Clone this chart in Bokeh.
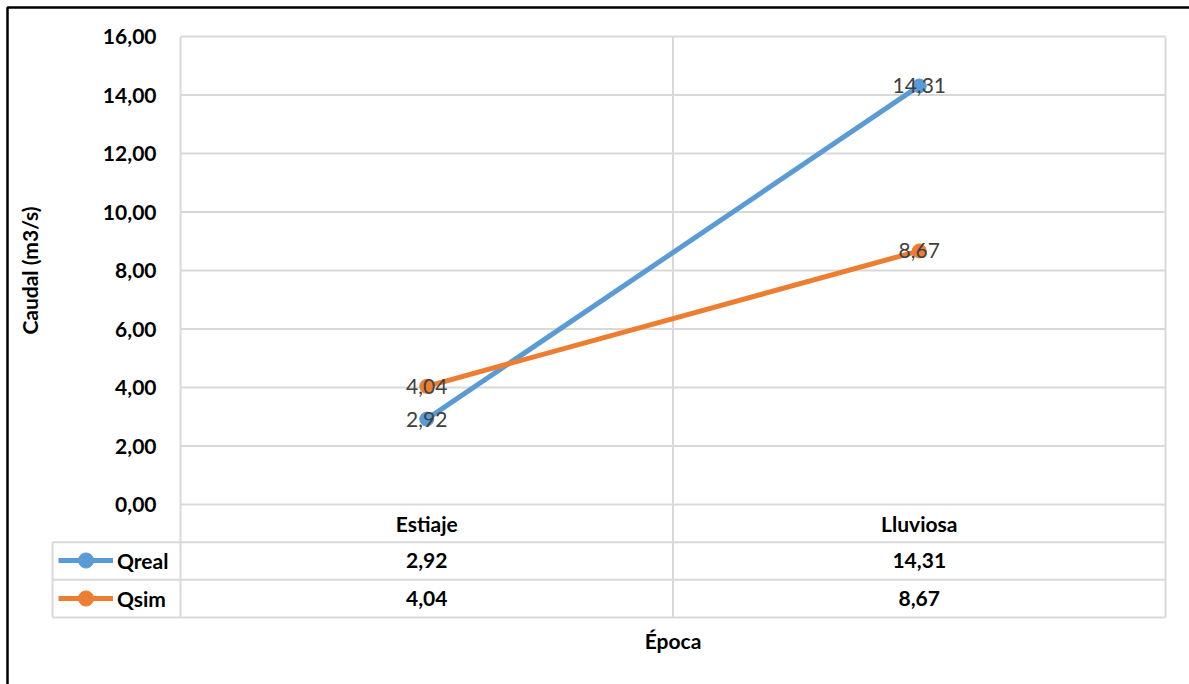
from bokeh.plotting import figure
from bokeh.models import (ColumnDataSource, Range1d, FixedTicker, LinearAxis,
                          BoxAnnotation, Legend, LegendItem)
from bokeh.core.properties import value
from bokeh.embed import file_html
from bokeh.resources import INLINE

# Caudal observado y simulado por época
epocas = ["Estiaje", "Lluviosa"]
qreal = [2.92, 14.31]
qsim = [4.04, 8.67]
series_names = ["Qreal", "Qsim"]
series_colors = ["#5B9BD5", "#ED7D31"]
y_ticks = [0, 2, 4, 6, 8, 10, 12, 14, 16]


def fmt(v):
    return f"{v:.2f}".replace(".", ",")


W, H = 1189, 684
FONT = value("Lato")
FS = "21px"
GRID = "#d9d9d9"

# layout of the canvas: plot area spans [0, N] on x and [0, 16] on y
N = len(epocas)
PX_X = 492.5             # pixels per category
PX_Y = 29.25             # pixels per m3/s
ROW = 3.863 / 3          # height of one data-table row, in y units
LEG_X = -128 / PX_X      # left edge of the table's legend column

xs = [i + 0.5 for i in range(N)]

src = ColumnDataSource(dict(
    x=xs,
    epoca=epocas,
    Qreal=qreal,
    Qsim=qsim,
    Qreal_txt=[fmt(v) for v in qreal],
    Qsim_txt=[fmt(v) for v in qsim],
    head_y=[-0.5 * ROW] * N,
    Qreal_row=[-1.5 * ROW] * N,
    Qsim_row=[-2.5 * ROW] * N,
))

p = figure(width=W, height=H,
           x_range=Range1d(-180 / PX_X, N + 24 / PX_X),
           y_range=Range1d(-180 / PX_Y, 16 + 36 / PX_Y),
           x_axis_location=None, y_axis_location=None,
           output_backend="svg", toolbar_location=None, min_border=0)
p.min_border_left = p.min_border_right = p.min_border_top = p.min_border_bottom = 0
p.background_fill_color = "white"
p.border_fill_color = "white"
p.outline_line_color = None
p.xgrid.visible = False
p.ygrid.visible = False

# value axis, pinned to the left edge of the plot area
yax = LinearAxis(fixed_location=0, bounds=(0, 16), ticker=FixedTicker(ticks=y_ticks),
                 major_label_overrides={t: fmt(t) for t in y_ticks},
                 axis_label="Caudal (m3/s)")
yax.major_label_text_font = "Lato"
yax.major_label_text_font_style = "bold"
yax.major_label_text_font_size = FS
yax.major_label_text_color = "black"
yax.axis_label_text_font = "Lato"
yax.axis_label_text_font_style = "bold"
yax.axis_label_text_font_size = FS
yax.axis_label_text_color = "black"
yax.axis_line_color = None
yax.major_tick_line_color = None
yax.minor_tick_line_color = None
yax.major_tick_out = 0
yax.major_tick_in = 0
yax.major_label_standoff = 24
yax.axis_label_standoff = 58
p.add_layout(yax, "left")

# category axis title, pinned under the data table
xax = LinearAxis(fixed_location=-3 * ROW, bounds=(0, N), ticker=FixedTicker(ticks=[]),
                 axis_label="Época")
xax.axis_label_text_font = "Lato"
xax.axis_label_text_font_style = "bold"
xax.axis_label_text_font_size = FS
xax.axis_label_text_color = "black"
xax.axis_line_color = None
xax.major_tick_line_color = None
xax.minor_tick_line_color = None
xax.major_tick_out = 0
xax.major_label_standoff = 0
xax.axis_label_standoff = 10
p.add_layout(xax, "below")

# horizontal gridlines of the plot area
p.segment(x0=[0] * len(y_ticks), x1=[N] * len(y_ticks), y0=y_ticks, y1=y_ticks,
          line_color=GRID, line_width=2)
# vertical rules: plot edges and category divider, down through the table
p.segment(x0=list(range(N + 1)), x1=list(range(N + 1)),
          y0=[-3 * ROW] * (N + 1), y1=[16] * (N + 1), line_color=GRID, line_width=2)
# table rows (with the legend column on the left)
p.segment(x0=[LEG_X] * 3, x1=[N] * 3, y0=[-ROW, -2 * ROW, -3 * ROW],
          y1=[-ROW, -2 * ROW, -3 * ROW], line_color=GRID, line_width=2)
p.segment(x0=[LEG_X], x1=[LEG_X], y0=[-ROW], y1=[-3 * ROW], line_color=GRID, line_width=2)

# series lines, markers and value labels
legend_items = []
for name, color in zip(series_names, series_colors):
    ln = p.line("x", name, source=src, line_color=color, line_width=5)
    mk = p.scatter("x", name, source=src, size=14, fill_color=color, line_color=color)
    legend_items.append(LegendItem(label=name, renderers=[ln, mk]))

for name in series_names:
    p.text("x", name, text=name + "_txt", source=src,
           text_font=FONT, text_font_size=FS, text_color="#404040",
           text_align="center", text_baseline="middle")

# data table: header and values
p.text("x", "head_y", text="epoca", source=src,
       text_font=FONT, text_font_style="bold", text_font_size=FS, text_color="black",
       text_align="center", text_baseline="middle")
for name in series_names:
    p.text("x", name + "_row", text=name + "_txt", source=src,
           text_font=FONT, text_font_style="bold", text_font_size=FS, text_color="black",
           text_align="center", text_baseline="middle")

# legend keys inside the table's left column
legend = Legend(items=legend_items, location=(58, 67), orientation="vertical",
                glyph_width=55, glyph_height=38, label_height=38, label_standoff=4,
                spacing=0, padding=0, margin=0,
                border_line_color=None, background_fill_alpha=0,
                label_text_font="Lato", label_text_font_style="bold",
                label_text_font_size=FS, label_text_color="black")
p.add_layout(legend)

# chart border
p.add_layout(BoxAnnotation(left=7, right=W + 20, top=H - 7, bottom=-20,
                           left_units="screen", right_units="screen",
                           top_units="screen", bottom_units="screen",
                           fill_color=None, fill_alpha=0,
                           line_color="black", line_alpha=1, line_width=2.5))

open("out.html", "w").write(file_html(p, INLINE))
